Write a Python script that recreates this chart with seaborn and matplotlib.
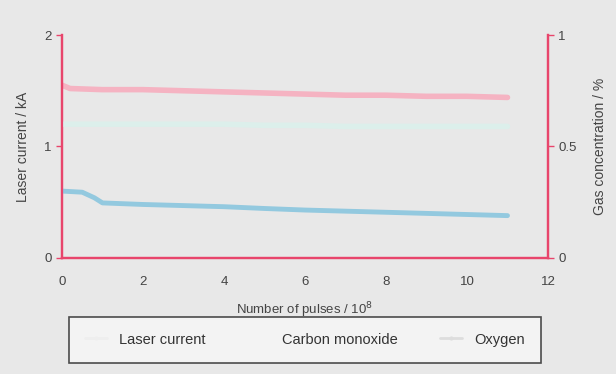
import matplotlib
matplotlib.use("Agg")
import matplotlib.pyplot as plt
import seaborn as sns
import pandas as pd
from matplotlib.lines import Line2D

sns.set_theme(style="white")
plt.rcParams['font.family'] = ['Liberation Sans', 'DejaVu Sans']

# Data
laser_x = [0, 0.2, 1, 2, 3, 4, 5, 6, 7, 8, 9, 10, 11]
laser_kA = [1.55, 1.52, 1.51, 1.51, 1.5, 1.49, 1.48, 1.47, 1.46, 1.46, 1.45, 1.45, 1.44]
oxygen_x = [0, 0.2, 1, 2, 3, 4, 5, 6, 7, 8, 9, 10, 11]
oxygen_pct = [0.60, 0.60, 0.60, 0.60, 0.60, 0.60, 0.595, 0.595, 0.59, 0.59, 0.59, 0.59, 0.59]
co_x = [0, 0.5, 0.8, 1.0, 2, 3, 4, 5, 6, 7, 8, 9, 10, 11]
co_pct = [0.30, 0.295, 0.27, 0.247, 0.24, 0.235, 0.23, 0.222, 0.215, 0.21, 0.205, 0.2, 0.195, 0.19]
x_ticks = [0, 2, 4, 6, 8, 10, 12]
left_ticks = [0, 1, 2]
right_ticks = [0, 0.5, 1]
right_ticklabels = ["0", "0.5", "1"]
legend_labels = ["Laser current", "Carbon monoxide", "Oxygen"]

c_laser = "#f5b3c2"
c_co = "#93c9df"
c_o2 = "#dcefeb"
spine_c = "#e8456c"
text_c = "#444444"

fig = plt.figure(figsize=(6.16, 3.74), dpi=100, facecolor="#e8e8e8")
ax = fig.add_axes([0.1006, 0.3102, 0.789, 0.5962])
ax.set_facecolor("none")
ax2 = ax.twinx()
ax2.set_facecolor("none")

sns.lineplot(x=laser_x, y=laser_kA, ax=ax, color=c_laser, linewidth=4)
sns.lineplot(x=co_x, y=co_pct, ax=ax2, color=c_co, linewidth=3.5)
sns.lineplot(x=oxygen_x, y=oxygen_pct, ax=ax2, color=c_o2, linewidth=4)

ax.set_xlim(0, 12)
ax.set_ylim(0, 2)
ax2.set_ylim(0, 1)
ax.set_xticks(x_ticks)
ax.set_xticklabels([str(t) for t in x_ticks], color=text_c, fontsize=9.5)
ax.set_yticks(left_ticks)
ax.set_yticklabels([str(t) for t in left_ticks], color=text_c, fontsize=9.5)
ax2.set_yticks(right_ticks)
ax2.set_yticklabels(right_ticklabels, color=text_c, fontsize=9.5)

for a in (ax, ax2):
    for s in ["top"]:
        a.spines[s].set_visible(False)
    for s in ["left", "right", "bottom"]:
        a.spines[s].set_color(spine_c)
        a.spines[s].set_linewidth(1.6)
    a.tick_params(colors=spine_c, labelcolor=text_c, length=4, width=1, direction="out")
ax.tick_params(axis="x", pad=9)

ax.set_xlabel("Number of pulses / 10$^8$", color=text_c, fontsize=9.5, labelpad=9)
ax.set_ylabel("Laser current / kA", color=text_c, fontsize=10, labelpad=10)
ax2.set_ylabel("Gas concentration / %", color=text_c, fontsize=10, labelpad=12)

handles = [
    Line2D([0], [0], color="#eeeeee", lw=2, marker="o", markersize=2),
    Line2D([0], [0], color="#f7f7f7", lw=0),
    Line2D([0], [0], color="#dddddd", lw=2, marker="o", markersize=2),
]
leg = fig.legend(handles, legend_labels, loc="lower left", ncol=3,
                 bbox_to_anchor=(0.1006, 0.011, 0.789, 0.139), mode="expand",
                 frameon=True, fontsize=10.5,
                 handlelength=1.5, columnspacing=2.0, borderpad=1.1,
                 fancybox=False, edgecolor="#222222", facecolor="#f6f6f6")
for t in leg.get_texts():
    t.set_color("#333333")
leg.get_frame().set_linewidth(1.2)

fig.savefig("out.png", dpi=100, facecolor=fig.get_facecolor())
